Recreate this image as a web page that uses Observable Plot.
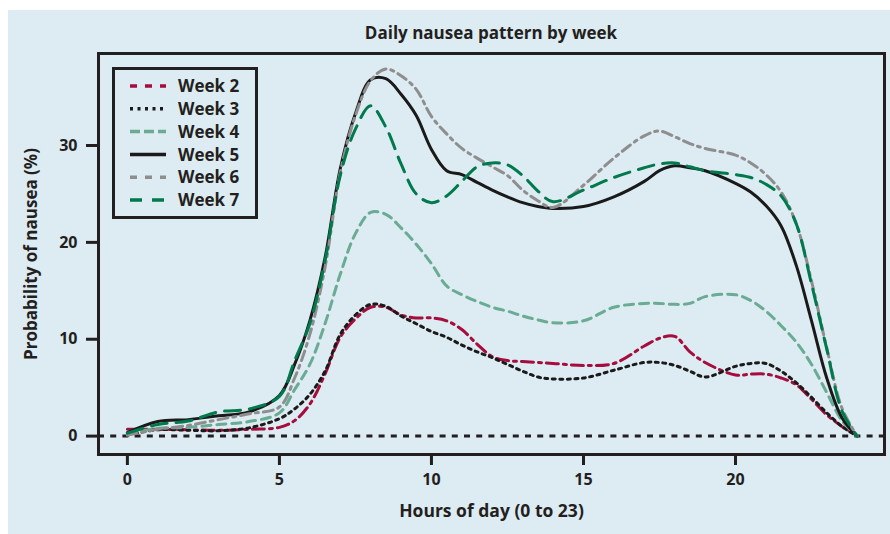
<!DOCTYPE html>
<html>
<head>
<meta charset="utf-8">
<script src="https://cdn.jsdelivr.net/npm/d3@7"></script>
<script src="https://cdn.jsdelivr.net/npm/@observablehq/plot@0.6"></script>
<style>
  html, body { margin: 0; padding: 0; background: #ffffff; }
  body { width: 890px; height: 534px; position: relative; overflow: hidden; font-family: "Open Sans", Roboto, "DejaVu Sans", sans-serif; }
  #panel { position: absolute; left: 8px; top: 10px; width: 882px; height: 524px; background: #ddebf2; }
  #title { position: absolute; left: 90px; width: 786px; top: 3px; height: 40px; line-height: 40px; text-align: center; font-size: 17px; font-weight: bold; color: #231f20; }
  #chart { position: absolute; left: 0; top: 40px; }
  #legend { position: absolute; left: 104px; top: 57px; width: 146px; height: 152px; box-sizing: border-box; border: 3px solid #231f20; background: #ddebf2; }
</style>
</head>
<body>
<div id="panel">
  <div id="title">Daily nausea pattern by week</div>
  <div id="chart"></div>
  <div id="legend"></div>
</div>
<script>
// ---- data ----
const hours = [0,1,2,3,4,5,5.5,6,6.5,7,7.5,8,8.5,9,9.5,10,10.5,11,11.5,12,12.5,13,13.5,14,15,16,17,17.5,18,18.5,19,20,20.5,21,21.5,22,22.5,23,23.5,24];
const week2 = [0.7,0.7,0.65,0.6,0.7,0.9,1.6,3.3,6.4,10.2,12.1,13.3,13.3,12.5,12.2,12.2,11.9,11.0,9.5,8.2,7.8,7.7,7.6,7.5,7.3,7.5,9.3,10.1,10.3,8.7,7.6,6.3,6.4,6.4,6.0,5.3,3.8,2.2,1.0,0];
const week3 = [0.1,0.65,0.6,0.55,0.85,1.8,2.8,4.3,6.7,10.5,12.5,13.6,13.4,12.4,11.6,10.8,10.2,9.4,8.7,8.1,7.4,6.7,6.1,5.9,6.0,6.8,7.6,7.6,7.3,6.7,6.1,7.2,7.5,7.5,6.7,5.5,4.0,2.4,1.0,0];
const week4 = [0.3,0.8,0.9,1.2,1.5,2.4,4.8,7.4,11.6,16.7,20.9,23.1,22.9,21.5,19.8,17.8,15.5,14.6,13.9,13.3,12.9,12.4,12.0,11.7,11.9,13.3,13.7,13.7,13.6,13.7,14.4,14.6,14.0,12.9,11.4,9.7,7.4,4.5,1.6,0];
const week5 = [0.35,1.5,1.7,2.1,2.5,4.2,7.4,11.9,18.4,27.6,33.3,36.8,36.9,35.3,33.1,29.6,27.4,27.0,26.2,25.4,24.7,24.1,23.7,23.5,23.7,24.7,26.3,27.4,27.9,27.7,27.4,26.1,25.2,23.8,21.7,17.6,11.9,6.0,1.9,0];
const week6 = [0.1,0.7,1.1,1.7,2.3,3.0,6.0,10.5,17.4,27.2,33.1,36.7,37.9,37.2,35.8,33.0,31.2,29.7,28.7,27.8,26.9,25.4,24.3,23.6,25.9,28.7,31.0,31.5,30.9,30.2,29.7,29.0,28.2,27.0,25.2,21.9,16.0,9.1,2.9,0];
const week7 = [0.3,1.2,1.55,2.5,2.8,4.1,7.8,11.6,18.1,26.9,31.7,34.1,31.9,28.1,25.0,24.1,24.8,26.3,27.8,28.2,28.0,26.9,25.3,24.2,25.4,26.7,27.7,28.1,28.2,27.8,27.4,27.0,26.7,26.0,24.8,21.9,15.7,9.0,2.6,0];
const seriesNames = ["Week 2","Week 3","Week 4","Week 5","Week 6","Week 7"];
const seriesValues = [week2, week3, week4, week5, week6, week7];
const xTicks = [0, 5, 10, 15, 20];
const yTicks = [0, 10, 20, 30];
const xLabel = "Hours of day (0 to 23)";
const yLabel = "Probability of nausea (%)";

// ---- styles ----
const ink = "#231f20";
const fontStack = "'Open Sans', Roboto, 'DejaVu Sans', sans-serif";
const lineStyle = {
  "Week 2": {stroke: "#a50d3d", dash: "12,5,3,5", legendDash: "7,8"},
  "Week 3": {stroke: "#1a1a1a", dash: "3,4.5", legendDash: "3,4.5"},
  "Week 4": {stroke: "#6aab93", dash: "9,6", legendDash: "10,4"},
  "Week 5": {stroke: "#1a1a1a", dash: null, legendDash: null},
  "Week 6": {stroke: "#8e8e8e", dash: "10,5,3,5", legendDash: "7,8"},
  "Week 7": {stroke: "#007a4d", dash: "16,9", legendDash: "12,10"}
};

const rows = seriesNames.map((name, i) => hours.map((h, j) => ({week: name, hour: h, value: seriesValues[i][j]})));

const lines = rows.map((data, i) => {
  const s = lineStyle[seriesNames[i]];
  return Plot.line(data, {x: "hour", y: "value", stroke: s.stroke, strokeWidth: 3, strokeDasharray: s.dash || undefined, curve: "catmull-rom"});
});

const chart = Plot.plot({
  width: 882,
  height: 484,
  marginTop: 3,
  marginRight: 6,
  marginBottom: 80,
  marginLeft: 90,
  x: {domain: [-0.95, 24.9]},
  y: {domain: [-1.9, 39.5]},
  style: {background: "transparent", fontFamily: fontStack, fontSize: "16px", fontWeight: "bold", color: ink, overflow: "visible"},
  marks: [
    Plot.ruleY([0], {stroke: ink, strokeWidth: 3, strokeDasharray: "6,6.2"}),
    ...lines,
    Plot.frame({stroke: ink, strokeWidth: 3}),
    Plot.axisX({ticks: xTicks, tickSize: 11, tickPadding: 8, strokeWidth: 3, label: null, fontSize: 16}),
    Plot.axisY({ticks: yTicks, tickSize: 12, tickPadding: 9, strokeWidth: 3, label: null, fontSize: 16}),
    Plot.text([xLabel], {frameAnchor: "bottom", textAnchor: "middle", dy: 62, fontSize: 17.5, fontWeight: "bold", fill: ink}),
    Plot.text([yLabel], {frameAnchor: "left", textAnchor: "middle", rotate: -90, dx: -67, fontSize: 17, fontWeight: "bold", fill: ink})
  ]
});
document.getElementById("chart").appendChild(chart);

// ---- legend ----
const legend = d3.select("#legend").append("svg").attr("width", 140).attr("height", 146).style("display", "block");
seriesNames.forEach((name, i) => {
  const s = lineStyle[name];
  const cy = 16 + i * 22.8;
  legend.append("line").attr("x1", 15).attr("x2", 51).attr("y1", cy).attr("y2", cy)
    .attr("stroke", s.stroke).attr("stroke-width", 3.5)
    .attr("stroke-dasharray", s.legendDash);
  legend.append("text").attr("x", 63).attr("y", cy).attr("dy", "0.36em")
    .attr("font-size", 17).attr("font-weight", "bold").attr("fill", ink)
    .attr("font-family", fontStack).text(name);
});
</script>
</body>
</html>
